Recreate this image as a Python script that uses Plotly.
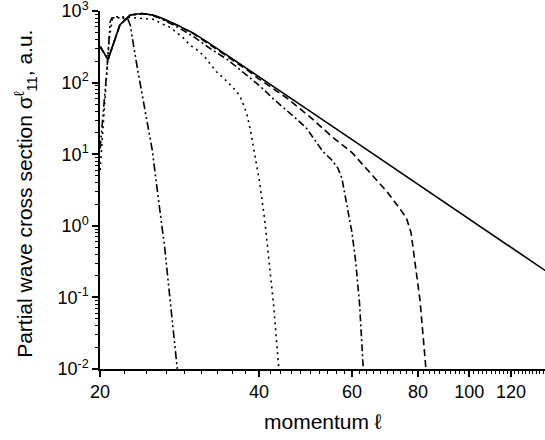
import plotly.graph_objects as go

# ---- data ----
solid_x = [20, 20.7, 21.8, 22.8, 24, 25, 26, 27, 28, 29, 30, 32, 35, 40, 45, 50, 60, 70, 80, 90, 100, 110, 120, 130, 140]
solid_y = [320, 210, 640, 880, 925, 890, 810, 720, 640, 560, 495, 365, 235, 121, 67, 39.7, 16.0, 7.4, 3.8, 2.1, 1.24, 0.77, 0.50, 0.334, 0.231]

dash_x = [20, 20.7, 21.8, 22.8, 24, 25, 26, 27, 28, 30, 32, 35, 38, 40, 45, 50, 55, 60, 65, 70, 74, 76, 77.6, 79, 80.7, 82.8]
dash_y = [320, 210, 640, 880, 925, 890, 810, 715, 630, 485, 352, 225, 150, 112, 62, 33, 17.5, 10.5, 5.5, 2.95, 1.7, 1.3, 0.8, 0.3, 0.09, 0.01]

dashdot_x = [20, 20.7, 21.8, 22.8, 24, 25, 26, 28, 30, 32, 35, 37.9, 40.2, 42.6, 44.7, 47, 49.2, 51, 52.9, 54.9, 56.4, 57.4, 58.1, 59.1, 60, 61, 62, 63]
dashdot_y = [320, 210, 640, 880, 920, 880, 790, 600, 445, 315, 205, 128, 89, 59, 44, 31.5, 23, 15.8, 10.8, 8.3, 6.4, 4.6, 2.9, 1.5, 0.79, 0.3, 0.08, 0.01]

dot_x = [20, 20.4, 20.8, 21.1, 21.5, 22, 23, 24.3, 25.3, 26.1, 27, 27.9, 28.8, 29.6, 30.7, 31.6, 32.4, 33.2, 34.3, 35.3, 36.3, 37.1, 37.5, 37.9, 38.5, 38.9, 40, 41, 42, 42.6, 43.6]
dot_y = [6, 60, 400, 780, 830, 830, 810, 790, 765, 670, 604, 504, 415, 335, 279, 226, 180, 142, 115, 93, 75, 57, 46, 37, 22, 14, 4.5, 1.2, 0.25, 0.08, 0.01]

dd_x = [20, 20.3, 20.6, 20.9, 21.05, 21.5, 22, 22.6, 22.8, 23.5, 24.3, 25.1, 25.8, 26.5, 27.3, 28]
dd_y = [12, 40, 150, 710, 800, 810, 800, 760, 640, 167, 41, 11.5, 2.3, 0.5, 0.06, 0.01]

x_tick_vals = [20, 40, 60, 80, 100, 120]
x_tick_text = ["20", "40", "60", "80", "100", "120"]
y_tick_vals = [1e-2, 1e-1, 1, 10, 100, 1000]
y_tick_text = ["10<sup>-2</sup>", "10<sup>-1</sup>", "10<sup>0</sup>", "10<sup>1</sup>", "10<sup>2</sup>", "10<sup>3</sup>"]
x_minor = [20 + k * 20 / 9 for k in range(1, 9)] + [v for v in range(42, 140, 2) if v % 20 != 0]
y_minor = [m * 10 ** e for e in range(-2, 3) for m in range(2, 10)]

series = [
    (solid_x, solid_y, "solid"),
    (dash_x, dash_y, "7px,4px"),
    (dashdot_x, dashdot_y, "7px,3px,2px,3px"),
    (dot_x, dot_y, "2px,4px"),
    (dd_x, dd_y, "8px,3px,2px,3px,2px,3px"),
]

fig = go.Figure()
for xs, ys, dash in series:
    fig.add_trace(go.Scatter(x=xs, y=ys, mode="lines",
                             line=dict(color="black", width=1.6, dash=dash),
                             showlegend=False, cliponaxis=True))

font = "Liberation Sans, Arial, sans-serif"
fig.update_layout(
    width=545, height=440,
    margin=dict(l=100, r=0, t=11, b=71, autoexpand=False),
    paper_bgcolor="white", plot_bgcolor="white",
    font=dict(family=font, color="black", size=18),
    xaxis=dict(type="log", range=[1.3008, 2.1435], automargin=False,
               tickmode="array", tickvals=x_tick_vals, ticktext=x_tick_text,
               ticks="outside", ticklen=6, tickwidth=1.5, tickcolor="black",
               showline=True, linecolor="black", linewidth=1.5,
               showgrid=False, zeroline=False, ticklabeloverflow="allow",
               minor=dict(tickmode="array", tickvals=x_minor, ticks="outside",
                          ticklen=3, tickwidth=1.2, tickcolor="black", showgrid=False),
               tickfont=dict(size=18)),
    yaxis=dict(type="log", range=[-2.001, 3.001], automargin=False,
               tickmode="array", tickvals=y_tick_vals, ticktext=y_tick_text,
               ticks="outside", ticklen=6, tickwidth=1.5, tickcolor="black",
               showline=True, linecolor="black", linewidth=1.5,
               showgrid=False, zeroline=False, ticklabeloverflow="allow",
               minor=dict(tickmode="array", tickvals=y_minor, ticks="outside",
                          ticklen=3, tickwidth=1.2, tickcolor="black", showgrid=False),
               tickfont=dict(size=18)),
    annotations=[
        dict(text="momentum ℓ", xref="paper", yref="paper", x=0.5, y=-0.148,
             xanchor="center", yanchor="middle", showarrow=False,
             font=dict(size=21, family=font)),
        dict(text="Partial wave cross section σ<sup>ℓ</sup><sub>11</sub>, a.u.",
             xref="paper", yref="paper", x=-0.168, y=0.49, textangle=-90,
             xanchor="center", yanchor="middle", showarrow=False,
             font=dict(size=21, family=font)),
    ],
)

fig.write_html("out.html", config={"displayModeBar": False},
               post_script="document.body.style.margin='0';")
